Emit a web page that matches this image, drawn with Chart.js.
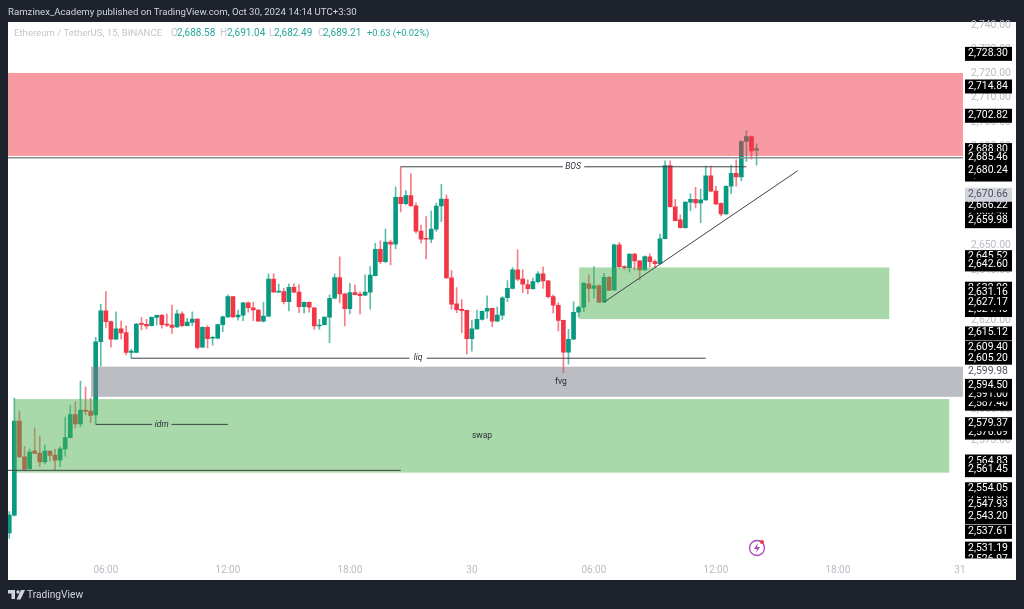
<!DOCTYPE html>
<html>
<head>
<meta charset="utf-8">
<title>ETHUSDT 15m</title>
<script src="https://cdn.jsdelivr.net/npm/chart.js@4/dist/chart.umd.min.js"></script>
<style>
    html, body { margin: 0; padding: 0; background: #1e222d; overflow: hidden; }
    #panel { position: absolute; left: 8px; top: 22px; width: 1008px; height: 558px; background: #fff; }
    #chart { position: absolute; left: 0; top: 0; }
    .txt { position: absolute; white-space: nowrap; font-family: Roboto, sans-serif; line-height: 14px; }
    .head { left: 8px; top: 5px; font-size: 9.65px; color: #d1d4dc; }
    .gray { color: #c3c6cd; font-size: 10px; top: 26px; }
    .green { color: #26a69a; font-size: 10px; top: 26px; }
    .foot { left: 27px; top: 588px; font-size: 10.2px; color: #d1d4dc; }
</style>
</head>
<body>
<div id="panel"></div>
<canvas id="chart" width="1024" height="609"></canvas>

<div class="txt head">Ramzinex_Academy published on TradingView.com, Oct 30, 2024 14:14 UTC+3:30</div>
<div class="txt gray" style="left:14px;font-size:9.6px">Ethereum / TetherUS, 15, BINANCE</div>
<div class="txt gray" style="left:171px">O</div><div class="txt green" style="left:177px">2,688.58</div>
<div class="txt gray" style="left:220px">H</div><div class="txt green" style="left:227px">2,691.04</div>
<div class="txt gray" style="left:269px">L</div><div class="txt green" style="left:274px">2,682.49</div>
<div class="txt gray" style="left:318px">C</div><div class="txt green" style="left:323px">2,689.21</div>
<div class="txt green" style="left:367px;font-size:9.3px">+0.63 (+0.02%)</div>

<svg style="position:absolute;left:747px;top:538px" width="20" height="20" viewBox="0 0 20 20">
    <circle cx="10" cy="10" r="7.5" fill="none" stroke="#ab47bc" stroke-width="1.3"/>
    <path d="M11 5 L7 11 L10 11 L9 15 L13 9 L10 9 Z" fill="#ab47bc"/>
    <circle cx="15" cy="4" r="2" fill="#f23645"/>
</svg>
<svg style="position:absolute;left:8px;top:590px" width="17" height="10" viewBox="0 0 17 10">
    <path d="M0 0 H7 V9 H3.5 V3.5 H0 Z M13 0 H17 L12.5 9.5 H8.5 Z" fill="#d1d4dc"/>
    <circle cx="10" cy="2" r="1.7" fill="#d1d4dc"/>
</svg>
<div class="txt foot">TradingView</div>

<script>
// candles, 15 minute bars, index 0 is 01:15 on the 29th
const opens = [
    2537.0, 2543.9, 2580.4, 2566.4, 2561.8, 2568.7, 2567.9, 2564.5, 2568.7, 2567.1,
    2565.1, 2569.5, 2573.9, 2582.9, 2579.3, 2584.7, 2584.3, 2582.8, 2611.6, 2623.9,
    2619.6, 2612.6, 2616.7, 2615.2, 2607.4, 2607.4, 2618.9, 2618.5, 2618.0, 2621.3,
    2622.1, 2618.6, 2618.2, 2617.5, 2622.7, 2618.0, 2619.3, 2620.6, 2609.5, 2617.3,
    2613.0, 2613.0, 2618.4, 2621.5, 2629.5, 2621.5, 2622.2, 2627.1, 2625.1, 2624.2,
    2619.8, 2621.8, 2636.5, 2631.3, 2631.5, 2627.5, 2633.2, 2631.3, 2625.5, 2627.3,
    2625.1, 2617.9, 2618.4, 2621.4, 2628.9, 2637.1, 2630.6, 2624.7, 2631.1, 2630.5,
    2630.1, 2631.3, 2637.9, 2648.5, 2643.5, 2651.4, 2650.5, 2669.4, 2666.8, 2670.1,
    2666.0, 2655.8, 2652.9, 2652.5, 2656.6, 2665.9, 2668.7, 2637.0, 2626.7, 2624.5,
    2624.1, 2612.8, 2616.7, 2620.5, 2623.7, 2624.9, 2619.8, 2622.2, 2629.1, 2632.8,
    2640.2, 2636.5, 2634.3, 2632.7, 2635.5, 2638.6, 2635.8, 2629.5, 2626.1, 2620.1,
    2607.5, 2612.6, 2623.3, 2625.3, 2634.6, 2632.8, 2633.9, 2627.3, 2637.2, 2632.2,
    2650.3, 2641.5, 2641.1, 2646.5, 2643.8, 2640.2, 2645.4, 2643.5, 2642.7, 2652.7,
    2682.3, 2665.6, 2660.3, 2657.2, 2667.5, 2668.6, 2667.1, 2668.4, 2678.1, 2671.9,
    2667.0, 2662.7, 2673.9, 2679.1, 2677.7, 2692.1, 2694.1, 2688.58
];
const highs = [
    2545.2, 2589.4, 2584.3, 2570.4, 2569.5, 2577.8, 2574.6, 2571.0, 2568.8, 2569.5,
    2570.4, 2582.0, 2586.7, 2588.0, 2596.1, 2593.8, 2589.4, 2613.4, 2626.5, 2631.5,
    2619.8, 2623.5, 2619.8, 2617.9, 2608.6, 2618.9, 2621.3, 2620.5, 2621.5, 2622.2,
    2622.5, 2622.6, 2626.2, 2624.2, 2623.5, 2620.9, 2623.5, 2620.8, 2617.6, 2618.0,
    2613.9, 2618.6, 2621.8, 2630.2, 2629.5, 2624.2, 2627.3, 2627.5, 2627.3, 2624.5,
    2627.3, 2638.6, 2638.6, 2634.5, 2632.8, 2634.6, 2634.6, 2634.2, 2627.5, 2627.5,
    2625.1, 2620.5, 2621.4, 2630.2, 2638.6, 2645.4, 2630.7, 2634.8, 2634.2, 2631.5,
    2638.2, 2641.5, 2650.9, 2651.9, 2656.6, 2652.2, 2673.7, 2681.8, 2672.1, 2678.9,
    2667.2, 2658.2, 2661.6, 2664.0, 2667.1, 2674.7, 2670.4, 2639.9, 2633.1, 2628.4,
    2624.2, 2620.2, 2624.2, 2623.9, 2629.8, 2625.0, 2625.5, 2629.5, 2635.9, 2641.1,
    2648.2, 2640.2, 2636.2, 2636.9, 2639.5, 2641.3, 2635.9, 2630.2, 2627.1, 2620.2,
    2616.5, 2627.5, 2625.8, 2635.2, 2638.2, 2641.5, 2634.2, 2638.8, 2637.5, 2650.6,
    2651.3, 2641.9, 2646.6, 2646.8, 2643.9, 2645.8, 2646.6, 2644.2, 2654.6, 2684.2,
    2684.2, 2668.6, 2662.3, 2667.6, 2670.8, 2673.5, 2672.7, 2682.1, 2682.1, 2673.9,
    2667.2, 2674.2, 2682.4, 2684.6, 2692.5, 2696.4, 2694.4, 2691.04
];
const lows = [
    2535.0, 2543.5, 2566.2, 2561.3, 2561.7, 2567.7, 2562.6, 2563.6, 2564.9, 2561.3,
    2562.6, 2566.7, 2573.8, 2577.7, 2578.2, 2582.8, 2579.8, 2579.3, 2602.0, 2617.1,
    2609.5, 2612.5, 2612.7, 2606.4, 2605.1, 2607.3, 2616.3, 2616.7, 2617.9, 2618.2,
    2617.0, 2617.6, 2614.9, 2617.3, 2617.6, 2617.9, 2618.0, 2608.7, 2609.4, 2609.2,
    2610.3, 2612.7, 2615.6, 2621.3, 2621.3, 2620.2, 2620.0, 2623.3, 2620.0, 2619.7,
    2619.4, 2621.5, 2631.3, 2631.2, 2626.6, 2623.8, 2631.1, 2623.1, 2622.9, 2623.3,
    2616.5, 2616.5, 2618.2, 2611.2, 2628.6, 2627.0, 2617.9, 2622.6, 2630.2, 2622.6,
    2629.9, 2624.5, 2637.8, 2642.8, 2643.1, 2642.2, 2648.7, 2663.5, 2666.3, 2665.6,
    2654.9, 2650.9, 2644.6, 2651.1, 2655.6, 2659.6, 2636.9, 2624.5, 2623.1, 2615.2,
    2606.8, 2607.9, 2616.5, 2620.2, 2620.9, 2617.6, 2619.7, 2620.5, 2627.5, 2632.6,
    2635.9, 2631.1, 2630.6, 2632.4, 2634.9, 2632.8, 2628.9, 2622.9, 2615.9, 2599.4,
    2602.7, 2612.4, 2621.5, 2623.5, 2627.4, 2628.9, 2627.1, 2627.1, 2631.9, 2632.0,
    2640.9, 2640.2, 2639.3, 2640.2, 2636.2, 2640.1, 2641.5, 2641.1, 2642.5, 2652.6,
    2665.4, 2659.9, 2657.0, 2657.0, 2664.0, 2665.1, 2659.2, 2668.2, 2671.6, 2666.4,
    2661.9, 2662.4, 2670.8, 2673.9, 2676.1, 2684.0, 2684.9, 2682.49
];
const closes = [
    2543.9, 2580.4, 2566.4, 2561.7, 2568.3, 2567.8, 2564.5, 2568.7, 2567.0, 2565.1,
    2569.6, 2573.9, 2582.9, 2579.3, 2584.7, 2584.2, 2582.6, 2611.6, 2623.9, 2619.6,
    2612.6, 2616.7, 2615.1, 2607.4, 2607.9, 2618.6, 2618.5, 2617.9, 2621.3, 2622.1,
    2618.4, 2618.2, 2617.3, 2622.7, 2618.0, 2619.4, 2620.6, 2609.4, 2617.3, 2612.8,
    2613.4, 2618.4, 2621.5, 2629.5, 2621.5, 2622.2, 2627.1, 2625.1, 2624.2, 2619.8,
    2621.8, 2636.5, 2631.3, 2631.7, 2627.5, 2633.2, 2631.3, 2625.5, 2627.3, 2625.3,
    2617.9, 2618.2, 2621.4, 2628.9, 2637.1, 2630.6, 2624.7, 2631.1, 2630.3, 2629.9,
    2631.3, 2638.1, 2648.5, 2643.5, 2651.4, 2650.5, 2669.4, 2666.8, 2670.1, 2666.0,
    2655.8, 2652.5, 2652.5, 2656.6, 2665.9, 2668.7, 2637.0, 2626.5, 2624.3, 2623.9,
    2612.8, 2616.7, 2620.5, 2623.7, 2624.9, 2619.8, 2622.2, 2629.1, 2632.8, 2640.2,
    2636.5, 2634.5, 2632.7, 2635.5, 2638.6, 2635.8, 2629.5, 2626.1, 2620.1, 2607.5,
    2612.6, 2623.3, 2625.3, 2634.8, 2632.8, 2633.8, 2627.3, 2637.2, 2632.0, 2650.3,
    2641.5, 2641.1, 2646.5, 2643.8, 2640.2, 2645.5, 2643.5, 2642.7, 2652.7, 2682.3,
    2665.6, 2660.0, 2657.2, 2667.5, 2668.6, 2667.1, 2668.4, 2678.1, 2671.9, 2666.7,
    2662.7, 2673.9, 2679.1, 2677.7, 2692.1, 2694.1, 2688.3, 2689.21
];

const timeTickBars = [19, 43, 67, 91, 115, 139, 163, 187];
const timeTickLabels = ['06:00', '12:00', '18:00', '30', '06:00', '12:00', '18:00', '31'];
const priceTicks = [2740, 2730, 2720, 2710, 2700, 2690, 2680, 2670, 2660, 2650, 2640, 2630,
    2620, 2610, 2585, 2573];

// black price tags on the axis, painted in this order (later ones cover earlier ones)
const priceTags = [2683.0, 2678.85, 2663.4, 2632.9, 2624.4, 2587.4, 2591.00, 2576.09, 2549.8,
    2728.30, 2714.84, 2702.82, 2688.80, 2685.46, 2680.24, 2666.22, 2659.98, 2645.52, 2642.60,
    2631.16, 2627.17, 2615.12, 2609.40, 2605.20, 2594.50, 2579.37, 2564.83, 2561.45, 2554.05,
    2547.93, 2543.20, 2537.61, 2531.19, 2526.97];
const lastPriceTag = 2670.66;
const plainPriceTag = 2599.98;

// zones: bar from, bar to, price top, price bottom
const redZone = [-0.25, 187.6, 2720.2, 2686.2];
const greyZone = [16.07, 187.6, 2601.75, 2589.9];
const swapZone = [0.92, 184.9, 2589.0, 2560.3];
const smallZone = [112.1, 173.1, 2641.2, 2620.6];

// drawn lines: bar, price, a null breaks the line around its label
const bosLine = [[77, 2681.8], [108.9, 2681.8], null, [113.1, 2681.8], [145, 2681.8]];
const liqLine = [[24, 2605.1], [78.7, 2605.1], null, [82.1, 2605.1], [137, 2605.1]];
const idmLine = [[17, 2579.1], [28.1, 2579.1], null, [31.9, 2579.1], [43, 2579.1]];
const swapLine = [[-0.25, 2561.2], [77, 2561.2]];
const zoneEdgeLine = [[-0.25, 2685.46], [187.6, 2685.46]];
const trendLine = [[117.05, 2627.4], [155.1, 2680.2]];

// text on the chart: label, bar, price
const chartLabels = [
    ['BOS', 110.9, 2681.8, 'italic'],
    ['liq', 80.4, 2605.1, 'italic'],
    ['idm', 30.0, 2579.1, 'italic'],
    ['fvg', 108.5, 2595.7, 'normal'],
    ['swap', 93.0, 2574.5, 'normal']
];

const UP = '#089981';
const DOWN = '#f23645';
const UP_WICK = 'rgba(8,153,129,0.65)';
const DOWN_WICK = 'rgba(242,54,69,0.65)';
const LINE = '#3f4148';

const bars = opens.map((o, i) => i);
const isUp = i => closes[i] >= opens[i];

function lineSet(points, color, width) {
    return {
        type: 'line',
        data: points.map(p => p ? { x: p[0], y: p[1] } : { x: NaN, y: NaN }),
        borderColor: color,
        borderWidth: width,
        pointRadius: 0,
        tension: 0,
        spanGaps: false,
        order: 0
    };
}

const fmt = v => v.toLocaleString('en-US', { minimumFractionDigits: 2, maximumFractionDigits: 2 });

// zones sit over the candles but under the drawn lines
const zonePlugin = {
    id: 'zones',
    afterDatasetDraw(chart, args) {
        if (args.index !== 1) return;
        const { ctx, chartArea, scales } = chart;
        const draw = (z, color) => {
            const x0 = scales.x.getPixelForValue(z[0]);
            const x1 = scales.x.getPixelForValue(z[1]);
            const y0 = scales.y.getPixelForValue(z[2]);
            const y1 = scales.y.getPixelForValue(z[3]);
            ctx.fillStyle = color;
            ctx.fillRect(x0, y0, x1 - x0, y1 - y0);
        };
        ctx.save();
        ctx.beginPath();
        ctx.rect(chartArea.left, chartArea.top, chartArea.width + 1, chartArea.height);
        ctx.clip();
        draw(redZone, 'rgba(242,54,69,0.5)');
        draw(greyZone, 'rgba(120,123,134,0.5)');
        draw(swapZone, 'rgba(76,175,80,0.48)');
        draw(smallZone, 'rgba(76,175,80,0.48)');
        ctx.restore();
    }
};

const labelPlugin = {
    id: 'labels',
    afterDraw(chart) {
        const { ctx, chartArea, scales } = chart;
        ctx.save();
        ctx.textAlign = 'center';
        ctx.textBaseline = 'middle';
        chartLabels.forEach(l => {
            ctx.font = l[3] + ' 8.5px Roboto, sans-serif';
            ctx.fillStyle = '#2a2e39';
            ctx.fillText(l[0], scales.x.getPixelForValue(l[1]), scales.y.getPixelForValue(l[2]));
        });

        ctx.beginPath();
        ctx.rect(chartArea.right, chartArea.top, 51, chartArea.height);
        ctx.clip();
        ctx.font = '10.4px Roboto, sans-serif';
        const tag = (v, bg, color) => {
            const y = scales.y.getPixelForValue(v);
            ctx.fillStyle = bg;
            ctx.fillRect(964, y - 6.5, 48, 14);
            ctx.fillStyle = color;
            ctx.fillText(fmt(v), 988, y);
        };
        priceTags.forEach(v => tag(v, '#000', '#fff'));
        tag(lastPriceTag, '#d1d4dc', '#50535e');
        tag(plainPriceTag, '#fff', '#50535e');
        ctx.restore();
    }
};

new Chart(document.getElementById('chart'), {
    data: {
        datasets: [
            {
                type: 'bar',
                data: bars.map(i => ({ x: i, y: [lows[i], highs[i]] })),
                backgroundColor: bars.map(i => isUp(i) ? UP_WICK : DOWN_WICK),
                barThickness: 1,
                order: 2
            },
            {
                type: 'bar',
                data: bars.map(i => ({ x: i, y: [opens[i], closes[i]] })),
                backgroundColor: bars.map(i => isUp(i) ? UP : DOWN),
                barThickness: 4,
                order: 1
            },
            lineSet(bosLine, LINE, 1),
            lineSet(liqLine, LINE, 1),
            lineSet(idmLine, LINE, 1),
            lineSet(swapLine, LINE, 1),
            lineSet(zoneEdgeLine, '#8a8c93', 1.5),
            lineSet(trendLine, LINE, 1)
        ]
    },
    options: {
        responsive: false,
        animation: false,
        events: [],
        layout: { padding: { left: 8, top: 22, right: 8, bottom: 28.5 } },
        plugins: { legend: { display: false }, tooltip: { enabled: false } },
        datasets: { bar: { grouped: false } },
        scales: {
            x: {
                type: 'linear',
                min: -0.25,
                max: 188,
                offset: false,
                border: { display: false },
                grid: { display: false, drawTicks: false },
                afterBuildTicks(scale) { scale.ticks = timeTickBars.map(v => ({ value: v })); },
                afterFit(scale) { scale.height = 22; },
                ticks: {
                    autoSkip: false,
                    maxRotation: 0,
                    padding: 6,
                    color: '#b9bcc4',
                    font: { family: 'Roboto, sans-serif', size: 10 },
                    callback: v => timeTickLabels[timeTickBars.indexOf(v)]
                }
            },
            y: {
                type: 'logarithmic',
                position: 'right',
                min: 2527.2,
                max: 2741.3,
                border: { display: false },
                grid: { display: false, drawTicks: false },
                afterBuildTicks(scale) { scale.ticks = priceTicks.map(v => ({ value: v })); },
                afterFit(scale) { scale.width = 51; },
                ticks: {
                    autoSkip: false,
                    padding: 6,
                    color: '#b9bcc4',
                    font: { family: 'Roboto, sans-serif', size: 10.4 },
                    callback: v => fmt(v)
                }
            }
        }
    },
    plugins: [zonePlugin, labelPlugin]
});
</script>
</body>
</html>
